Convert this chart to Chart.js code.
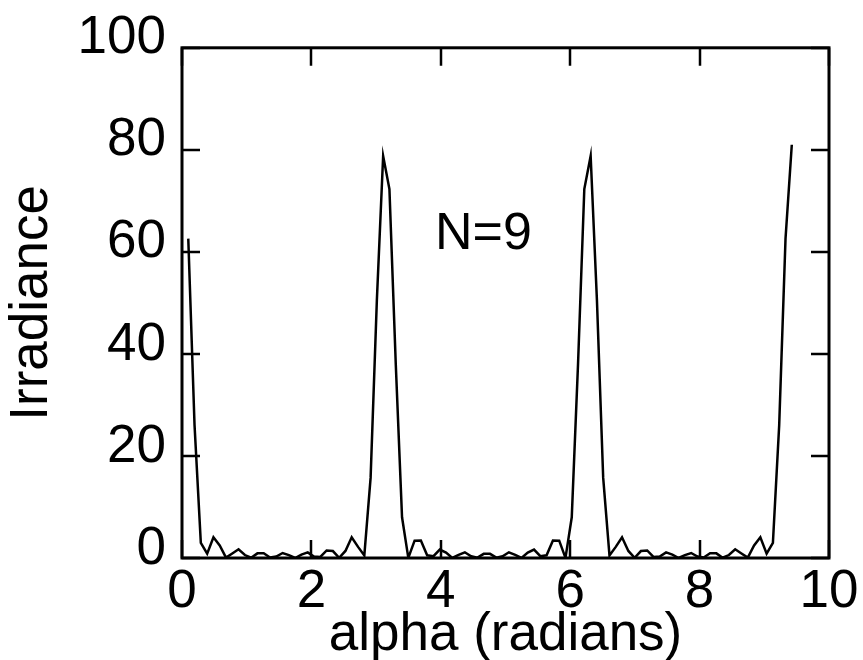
<!DOCTYPE html>
<html>
<head>
<meta charset="utf-8">
<title>Irradiance N=9</title>
<script src="https://cdn.jsdelivr.net/npm/chart.js@4.4.1/dist/chart.umd.min.js"></script>
<style>
  html, body { margin: 0; padding: 0; background: #fff; }
  #wrap { width: 863px; height: 660px; }
</style>
</head>
<body>
<div id="wrap"><canvas id="chart" width="863" height="660"></canvas></div>
<script>
// alpha (radians) sample positions
const alpha = [
  0.097, 0.194, 0.291, 0.389, 0.486, 0.583, 0.680, 0.777, 0.874, 0.972,
  1.069, 1.166, 1.263, 1.360, 1.457, 1.555, 1.652, 1.749, 1.846, 1.943,
  2.040, 2.138, 2.235, 2.332, 2.429, 2.526, 2.623, 2.721, 2.818, 2.915,
  3.012, 3.109, 3.206, 3.304, 3.401, 3.498, 3.595, 3.692, 3.789, 3.887,
  3.984, 4.081, 4.178, 4.275, 4.372, 4.469, 4.567, 4.664, 4.761, 4.858,
  4.955, 5.052, 5.150, 5.247, 5.344, 5.441, 5.538, 5.635, 5.733, 5.830,
  5.927, 6.024, 6.121, 6.218, 6.316, 6.413, 6.510, 6.607, 6.704, 6.801,
  6.899, 6.996, 7.093, 7.190, 7.287, 7.384, 7.482, 7.579, 7.676, 7.773,
  7.870, 7.967, 8.064, 8.162, 8.259, 8.356, 8.453, 8.550, 8.647, 8.745,
  8.842, 8.939, 9.036, 9.133, 9.230, 9.328, 9.425
];

// irradiance values
const irradiance = [
  62.6, 26.0, 2.97, 0.85, 4.07, 2.45, 0.07, 0.87, 1.70, 0.58,
  0.05, 0.91, 0.95, 0.11, 0.28, 0.98, 0.56, 0.00, 0.67, 1.10,
  0.27, 0.20, 1.47, 1.36, 0.04, 1.38, 4.07, 2.18, 0.50, 15.7,
  50.6, 78.8, 72.3, 38.0, 7.98, 0.03, 3.40, 3.44, 0.53, 0.36,
  1.66, 1.05, 0.01, 0.60, 1.12, 0.35, 0.07, 0.82, 0.82, 0.07,
  0.35, 1.12, 0.60, 0.01, 1.05, 1.66, 0.36, 0.53, 3.44, 3.40,
  0.03, 7.98, 38.0, 72.3, 78.8, 50.6, 15.7, 0.50, 2.18, 4.07,
  1.38, 0.04, 1.36, 1.47, 0.20, 0.27, 1.10, 0.67, 0.00, 0.56,
  0.98, 0.28, 0.11, 0.95, 0.91, 0.05, 0.58, 1.70, 0.87, 0.07,
  2.45, 4.07, 0.85, 2.97, 26.0, 62.6, 81.0
];

const xTicks = [0, 2, 4, 6, 8, 10];
const yTicks = [0, 20, 40, 60, 80, 100];
const annotation = { text: 'N=9', x: 3.91, y: 63.4 };

const FONT = '"Liberation Sans", Arial, Helvetica, sans-serif';
const INK = '#000';

// box + inward ticks + the N=9 note
const framePlugin = {
  id: 'frame',
  afterDatasetsDraw(chart) {
    const { ctx, chartArea: a, scales } = chart;
    const tl = 18;
    ctx.save();
    ctx.strokeStyle = INK;
    ctx.lineWidth = 3;
    ctx.strokeRect(a.left, a.top, a.right - a.left, a.bottom - a.top);

    ctx.lineWidth = 2.5;
    ctx.beginPath();
    xTicks.forEach((v) => {
      const px = Math.round(scales.x.getPixelForValue(v));
      ctx.moveTo(px, a.bottom); ctx.lineTo(px, a.bottom - tl);
      ctx.moveTo(px, a.top); ctx.lineTo(px, a.top + tl);
    });
    yTicks.forEach((v) => {
      const py = Math.round(scales.y.getPixelForValue(v));
      ctx.moveTo(a.left, py); ctx.lineTo(a.left + tl, py);
      ctx.moveTo(a.right, py); ctx.lineTo(a.right - tl, py);
    });
    ctx.stroke();

    ctx.fillStyle = INK;
    ctx.font = '52px ' + FONT;
    ctx.textAlign = 'left';
    ctx.textBaseline = 'middle';
    ctx.fillText(annotation.text, scales.x.getPixelForValue(annotation.x), scales.y.getPixelForValue(annotation.y));
    ctx.restore();
  }
};

new Chart(document.getElementById('chart'), {
  type: 'scatter',
  data: {
    datasets: [{
      data: alpha.map((a, i) => ({ x: a, y: irradiance[i] })),
      showLine: true,
      borderColor: INK,
      borderWidth: 2.5,
      pointRadius: 0,
      tension: 0,
      fill: false
    }]
  },
  options: {
    responsive: false,
    animation: false,
    devicePixelRatio: 1,
    layout: { padding: { left: 0, right: 34, top: 44, bottom: 0 } },
    plugins: { legend: { display: false }, tooltip: { enabled: false } },
    scales: {
      x: {
        type: 'linear', min: 0, max: 10,
        afterBuildTicks: (s) => { s.ticks = xTicks.map((v) => ({ value: v })); },
        afterFit: (s) => { s.height = 102; },
        grid: { display: false, drawTicks: false },
        border: { display: false },
        ticks: { color: INK, font: { family: FONT, size: 53 }, padding: 3, maxRotation: 0 },
        title: { display: true, text: 'alpha (radians)', color: INK, font: { family: FONT, size: 53, lineHeight: 1.1 }, padding: { top: 0, bottom: -5 } }
      },
      y: {
        type: 'linear', min: 0, max: 100,
        afterBuildTicks: (s) => { s.ticks = yTicks.map((v) => ({ value: v })); },
        afterFit: (s) => { s.width = 182; },
        grid: { display: false, drawTicks: false },
        border: { display: false },
        ticks: { color: INK, font: { family: FONT, size: 53 }, padding: 16, labelOffset: -9 },
        title: { display: true, text: 'Irradiance', color: INK, font: { family: FONT, size: 53, lineHeight: 1.1 }, padding: { top: 3, bottom: 0 } }
      }
    }
  },
  plugins: [framePlugin]
});
</script>
</body>
</html>
